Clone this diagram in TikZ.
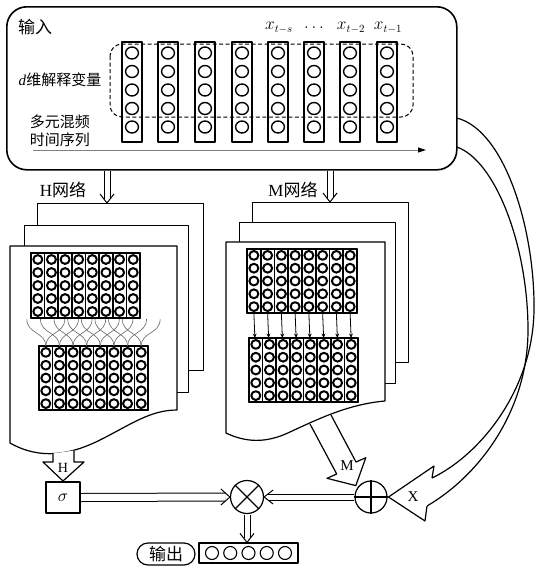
\documentclass[tikz,border=0pt]{standalone}
\usepackage{fontspec}
\setmainfont{Liberation Serif}
\newfontfamily\cjk{Noto Sans CJK SC}
\usetikzlibrary{arrows.meta,calc}
\newcommand\nngrid[4]{%
  \foreach \c in {0,...,7}{%
    \pgfmathsetmacro\gcx{#1+(\c+0.5)*#3/8}
    \draw[line width=1.6pt, fill=white] (#1+\c*#3/8, #2) rectangle (#1+\c*#3/8+#3/8, #2+#4);
    \foreach \r in {0,...,4}{%
      \draw[line width=2pt] (\gcx, #2+\r*#4/5+#4/10) ellipse (4.5pt and 4.4pt);
    }
  }
  \draw[line width=1.7pt] (#1,#2) rectangle ++(#3,#4);
}
\begin{document}
\begin{tikzpicture}[x=1pt,y=-1pt,line join=round,
  bl/.style={line width=1.2pt},
  sheet/.style={draw, fill=white, line width=1.2pt, inner sep=0pt, anchor=north west},
  dshaft/.style={draw=black, double=white, double distance=#1, line width=1pt},
  headl/.style={line width=1pt},
  zh/.style={font=\cjk\fontsize{#1}{#1}\selectfont},
  lat/.style={font=\fontsize{#1}{#1}\selectfont},
  opnode/.style={circle, draw, line width=1.2pt, minimum size=33pt, inner sep=0pt}]
\fill[white] (0,0) rectangle (536,568);
\useasboundingbox (0,0) rectangle (536,568);

% ---------- input panel ----------
\node[draw, line width=1.6pt, rounded corners=20pt, minimum width=450pt, minimum height=163pt, inner sep=0pt, anchor=north west] (inbox) at (6,6) {};
\node[zh=17] (inlab) at (35,27) {输入};
\foreach \x in {122,158,195,232,268,304,340,377}{
  \draw[line width=1.3pt] (\x,42) rectangle (\x+20,142);
  \foreach \y in {53,71.5,90,108.5,127}
    \draw[line width=1.4pt] (\x+10,\y) ellipse (6.4pt and 6pt);
}
\draw[dashed, dash pattern=on 4pt off 2.5pt, line width=1pt, rounded corners=12pt] (110,44) rectangle (413,117);
\node[lat=16] (xts) at (279,28) {$x_{t-s}$};
\node[lat=16] (xdots) at (314,28) {$\dots$};
\node[lat=16] (xt2) at (351,28) {$x_{t-2}$};
\node[lat=16] (xt1) at (388,28) {$x_{t-1}$};
\node[font=\fontsize{15}{15}\selectfont] (dlab) at (60,80) {\textit{d}{\cjk 维解释变量}};
\node[zh=15] (mlab1) at (60,122) {多元混频};
\node[zh=15] (mlab2) at (60,140) {时间序列};
\coordinate (tl0) at (33,150);
\coordinate (tl1) at (426,150);
\draw[black!50, line width=1pt, -{Triangle[length=8pt,width=5pt,color=black,fill=black]}] (tl0) -- (tl1);

% ---------- H network ----------
\node[sheet, minimum width=166pt, minimum height=167pt] (hback) at (37,203) {};
\node[sheet, minimum width=164pt, minimum height=167pt] (hmid) at (24,225) {};
\draw[bl, fill=white] (10,246) -- (177,246) -- (177,410) .. controls (150,410) and (130,425) .. (100,440) .. controls (70,455) and (40,460) .. (10,443) -- cycle;
\nngrid{31}{253}{109}{65}
\nngrid{39}{346}{109}{64}
\foreach \j in {0,...,7}{
  \pgfmathsetmacro\hx{39+109/16+\j*109/8}
  \draw[black!60, line width=0.6pt] (\hx,346) .. controls (\hx,332) and (\hx-19,334) .. (\hx-19,319);
  \draw[black!60, line width=0.6pt] (\hx,346) .. controls (\hx,332) and (\hx+19,334) .. (\hx+19,319);
}
\node[lat=17] (hnet) at (63,190) {H{\cjk 网络}};
\coordinate (hin) at (107,170.5);
\coordinate (hend) at (hin |- hback.north);
\draw[dshaft=5pt, shorten >=4.3pt] (hin) -- (hend);
\draw[headl] ($(hend)+(-7,-9)$) -- (hend) -- ($(hend)+(7,-9)$);

% ---------- M network ----------
\node[sheet, minimum width=156pt, minimum height=160pt] (mback) at (252,202) {};
\node[sheet, minimum width=156pt, minimum height=161pt] (mmid) at (239,222) {};
\draw[bl, fill=white] (226,242) -- (385,242) -- (385,401) .. controls (350,404) and (320,418) .. (290,432) .. controls (265,444) and (245,442) .. (226,433) -- cycle;
\nngrid{247}{249}{110}{64}
\nngrid{249}{338}{109}{64}
\foreach \j in {0,...,7}{
  \pgfmathsetmacro\mx{247+110/16+\j*110/8}
  \draw[line width=0.8pt, -{Stealth[length=4.5pt,width=4pt]}] (\mx,313) -- (\mx+1,338);
}
\node[lat=17] (mnet) at (293,190) {M{\cjk 网络}};
\coordinate (min) at (330,170.5);
\coordinate (mend) at (min |- mback.north);
\draw[dshaft=5pt, shorten >=4.3pt] (min) -- (mend);
\draw[headl] ($(mend)+(-7,-9)$) -- (mend) -- ($(mend)+(7,-9)$);

% ---------- bottom ----------
\node[draw, line width=1.2pt, minimum width=34pt, minimum height=31pt, inner sep=0pt] (sigma) at (63,497.5) {\fontsize{16}{16}\selectfont$\sigma$};
\node[opnode] (mul) at (247,497) {};
\draw[line width=1.1pt] (mul.north west) -- (mul.south east) (mul.north east) -- (mul.south west);
\node[opnode, minimum size=32pt] (plus) at (371,497) {};
\draw[line width=1.1pt] (plus.north) -- (plus.south) (plus.west) -- (plus.east);
\node[draw, line width=1.2pt, minimum width=99pt, minimum height=20pt, inner sep=0pt] (outrow) at (248.5,553) {};
\foreach \i in {0,...,4}
  \draw[line width=1.1pt] (212+18.25*\i,553) circle (6.5pt);
\node[draw, line width=1.2pt, rounded corners=11pt, minimum width=58pt, minimum height=22pt, inner sep=0pt, zh=17] (outlab) at (166,554) {输出};

\draw[dshaft=7pt, shorten <=0.6pt, shorten >=4.8pt] (sigma.east) -- (mul.west);
\draw[headl] ($(mul.west)+(-9,-8)$) -- (mul.west) -- ($(mul.west)+(-9,8)$);
\draw[dshaft=5pt, shorten <=0.6pt, shorten >=4.3pt] (plus.west) -- (mul.east);
\draw[headl] ($(mul.east)+(9,-7)$) -- (mul.east) -- ($(mul.east)+(9,7)$);
\coordinate (oend) at (mul.south |- outrow.north);
\draw[dshaft=5pt, shorten <=0.6pt, shorten >=4.3pt] (mul.south) -- (oend);
\draw[headl] ($(oend)+(-7,-9)$) -- (oend) -- ($(oend)+(7,-9)$);

% H arrow
\fill[white] (53,453.5) -- (53,462) -- (43,462) -- (63,481) -- (84,462) -- (74,462) -- (74,450.5) -- cycle;
\draw[bl] (53,453.5) -- (53,462) -- (43,462) -- (63,481) -- (84,462) -- (74,462) -- (74,450.5);
\node[lat=14] (hlab) at (63,468) {H};

% M arrow
\fill[white] (310,424) -- (336.7,474) -- (327,478.3) -- (355.8,485.6) -- (365.8,457.7) -- (356,462) -- (331,415) -- cycle;
\draw[bl] (310,424) -- (336.7,474) -- (327,478.3) -- (355.8,485.6) -- (365.8,457.7) -- (356,462) -- (331,415);
\node[lat=15] (mlab) at (347,466) {M};

% X arrow
\coordinate (xa) at (456.7,118);
\coordinate (xb) at (456.7,147);
\draw[bl] (xa) .. controls (505,130) and (535,230) .. (534,310) .. controls (533,390) and (480,455) .. (432,478);
\draw[bl] (xb) .. controls (495,160) and (528,245) .. (528,330) .. controls (528,410) and (480,475) .. (427,506);
\draw[bl, fill=white] (432,478) -- (434,466) -- (388.5,497) -- (425,521) -- (427,506);
\node[lat=15] (xlab) at (413,497) {X};
\end{tikzpicture}
\end{document}
